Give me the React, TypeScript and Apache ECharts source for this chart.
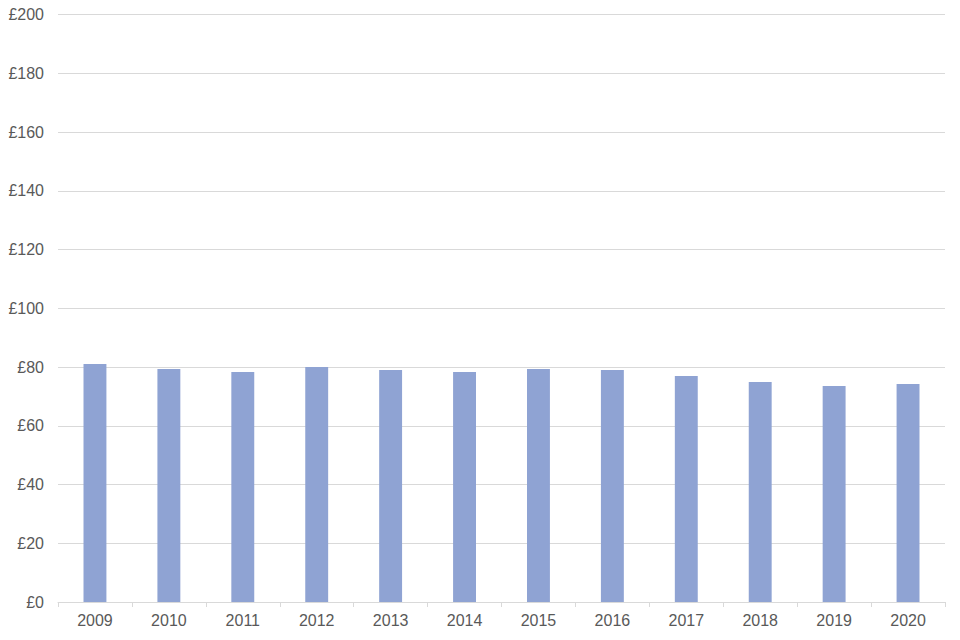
import React, { useEffect, useRef } from "react";
import * as echarts from "echarts";

const years = ["2009", "2010", "2011", "2012", "2013", "2014", "2015", "2016", "2017", "2018", "2019", "2020"];
const values = [81.0, 79.3, 78.3, 80.0, 79.0, 78.3, 79.3, 79.0, 76.9, 74.9, 73.5, 74.2];

export default function App() {
  const ref = useRef<HTMLDivElement>(null);
  useEffect(() => {
    if (!ref.current) return;
    const chart = echarts.init(ref.current, undefined, { renderer: "svg" });
    chart.setOption({
      animation: false,
      backgroundColor: "#ffffff",
      grid: { left: 58, right: 15, top: 14.5, bottom: 38, containLabel: false },
      xAxis: {
        type: "category",
        data: years,
        axisLine: { show: true, lineStyle: { color: "#d9d9d9", width: 1 } },
        axisTick: { show: true, alignWithLabel: false, length: 5, lineStyle: { color: "#d9d9d9" } },
        axisLabel: { color: "#595959", fontSize: 16, fontFamily: "Liberation Sans, Arial, sans-serif", margin: 10 },
      },
      yAxis: {
        type: "value",
        min: 0,
        max: 200,
        interval: 20,
        axisLine: { show: false },
        axisTick: { show: false },
        splitLine: { lineStyle: { color: "#d9d9d9", width: 1 } },
        axisLabel: {
          color: "#595959",
          fontSize: 16,
          fontFamily: "Liberation Sans, Arial, sans-serif",
          margin: 14,
          formatter: (v: number) => "£" + v,
        },
      },
      series: [
        {
          type: "bar",
          data: values,
          barWidth: "31%",
          itemStyle: { color: "#8FA3D3" },
        },
      ],
    });
    return () => chart.dispose();
  }, []);
  return <div ref={ref} style={{ width: 960, height: 640, position: "absolute", left: 0, top: 0 }} />;
}
